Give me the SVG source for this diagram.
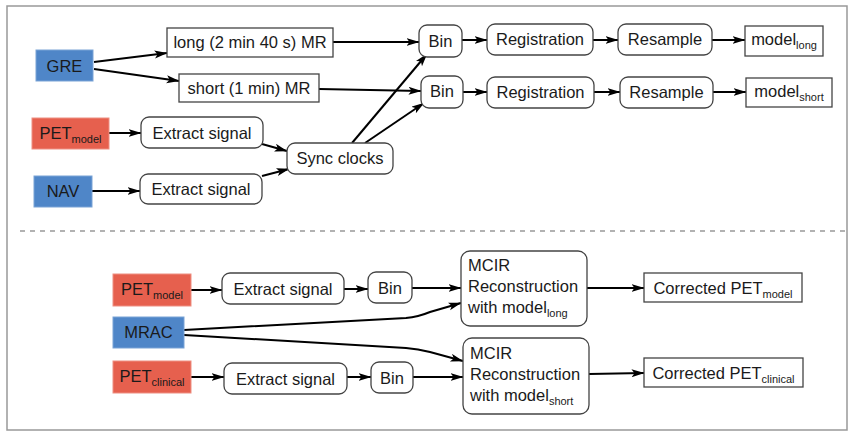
<svg xmlns="http://www.w3.org/2000/svg" width="851" height="433" viewBox="0 0 851 433">
<defs>
<marker id="ah" markerUnits="userSpaceOnUse" markerWidth="14" markerHeight="10" refX="12.5" refY="4" orient="auto">
<path d="M0,0 L13,4 L0,8 L3,4 z" fill="#000"/>
</marker>
<style>
text{font-family:"Liberation Sans",Arial,sans-serif;font-size:16.5px;fill:#1a1a1a}
.c{text-anchor:middle}
.sub{font-size:11px}
.box{fill:#fff;stroke:#444;stroke-width:1.3}
.blue{fill:#4f86c8;stroke:#7aa3d6;stroke-width:1}
.red{fill:#e6604e;stroke:#ee8f82;stroke-width:1}
.e{fill:none;stroke:#000;stroke-width:2;marker-end:url(#ah)}
</style>
</defs>
<rect width="851" height="433" fill="#fff"/>
<rect x="7" y="6" width="840" height="424" fill="none" stroke="#999" stroke-width="1.5"/>
<line x1="20" y1="231" x2="846" y2="231" stroke="#999" stroke-width="1.5" stroke-dasharray="5,5"/>

<g id="connectors">
<path class="e" d="M94,62 L167,53"/>
<path class="e" d="M94,69 L179,81"/>
<path class="e" d="M333,42 L419,42"/>
<path class="e" d="M319,89 L421,91"/>
<path class="e" d="M109,133 L141,133"/>
<path class="e" d="M92,191 L140,191"/>
<path class="e" d="M262,144 L287,151"/>
<path class="e" d="M262,176 L289,169"/>
<path class="e" d="M352,143 L427,54"/>
<path class="e" d="M365,143 L424,103"/>
<path class="e" d="M462,40 L487,40"/>
<path class="e" d="M593,40 L618,40"/>
<path class="e" d="M712,40 L745,40"/>
<path class="e" d="M463,92 L487,92"/>
<path class="e" d="M594,92 L620,92"/>
<path class="e" d="M713,92 L746,92"/>

<path class="e" d="M191,290 L222,290"/>
<path class="e" d="M344,289 L368,289"/>
<path class="e" d="M412,288 L461,288"/>
<path class="e" d="M184,330 L406,318 Q418,317 430,312 L461,303"/>
<path class="e" d="M184,335 L406,348 Q418,349 430,352 L463,361"/>
<path class="e" d="M191,377 L224,377"/>
<path class="e" d="M347,377 L371,377"/>
<path class="e" d="M413,377 L463,377"/>
<path class="e" d="M587,288 L644,288"/>
<path class="e" d="M589,374 L644,373"/>
</g>

<g id="gre"><rect class="blue" x="36" y="50" width="57" height="31"/><text class="c" x="64.5" y="72">GRE</text></g>
<g id="longmr"><rect class="box" x="167" y="28" width="166" height="29"/><text class="c" x="250" y="48">long (2 min 40 s) MR</text></g>
<g id="shortmr"><rect class="box" x="179" y="74" width="140" height="28"/><text class="c" x="249" y="94">short (1 min) MR</text></g>
<g id="petmodel1"><rect class="red" x="32" y="118" width="77" height="31"/><text class="c" x="70.5" y="139">PET<tspan class="sub" dy="4">model</tspan></text></g>
<g id="extract1"><rect class="box" x="141" y="117" width="122" height="31" rx="8"/><text class="c" x="202" y="139">Extract signal</text></g>
<g id="nav"><rect class="blue" x="34" y="176" width="58" height="31"/><text class="c" x="63" y="197">NAV</text></g>
<g id="extract2"><rect class="box" x="140" y="174" width="122" height="30" rx="8"/><text class="c" x="201" y="195">Extract signal</text></g>
<g id="sync"><rect class="box" x="287" y="143" width="106" height="31" rx="8"/><text class="c" x="340" y="164">Sync clocks</text></g>

<g id="bin1"><rect class="box" x="419" y="25" width="43" height="32" rx="8"/><text class="c" x="440.5" y="47">Bin</text></g>
<g id="reg1"><rect class="box" x="487" y="24" width="106" height="31" rx="8"/><text class="c" x="540" y="45">Registration</text></g>
<g id="res1"><rect class="box" x="618" y="24" width="94" height="31" rx="8"/><text class="c" x="665" y="45">Resample</text></g>
<g id="modellong"><rect class="box" x="745" y="26" width="78" height="30"/><text class="c" x="784" y="45">model<tspan class="sub" dy="4">long</tspan></text></g>

<g id="bin2"><rect class="box" x="421" y="76" width="42" height="32" rx="8"/><text class="c" x="442" y="97">Bin</text></g>
<g id="reg2"><rect class="box" x="487" y="77" width="107" height="31" rx="8"/><text class="c" x="540.5" y="98">Registration</text></g>
<g id="res2"><rect class="box" x="620" y="77" width="93" height="31" rx="8"/><text class="c" x="666.5" y="98">Resample</text></g>
<g id="modelshort"><rect class="box" x="746" y="78" width="86" height="29"/><text class="c" x="789" y="97">model<tspan class="sub" dy="4">short</tspan></text></g>

<g id="petmodel2"><rect class="red" x="113" y="274" width="78" height="32"/><text class="c" x="152" y="295">PET<tspan class="sub" dy="4">model</tspan></text></g>
<g id="extract3"><rect class="box" x="222" y="273" width="122" height="31" rx="8"/><text class="c" x="283" y="295">Extract signal</text></g>
<g id="bin3"><rect class="box" x="368" y="272" width="44" height="31" rx="8"/><text class="c" x="390" y="294">Bin</text></g>
<g id="mrac"><rect class="blue" x="113" y="317" width="71" height="31"/><text class="c" x="148.5" y="338">MRAC</text></g>
<g id="petclinical"><rect class="red" x="113" y="361" width="78" height="32"/><text class="c" x="152" y="382">PET<tspan class="sub" dy="4">clinical</tspan></text></g>
<g id="extract4"><rect class="box" x="224" y="363" width="123" height="31" rx="8"/><text class="c" x="285.5" y="385">Extract signal</text></g>
<g id="bin4"><rect class="box" x="371" y="362" width="42" height="31" rx="8"/><text class="c" x="392" y="384">Bin</text></g>

<g id="mcir1"><rect class="box" x="461" y="251" width="126" height="75" rx="9"/>
<text x="468" y="271">MCIR</text><text x="468" y="292">Reconstruction</text><text x="468" y="313">with model<tspan class="sub" dy="4">long</tspan></text></g>
<g id="mcir2"><rect class="box" x="463" y="338" width="126" height="76" rx="9"/>
<text x="470" y="359">MCIR</text><text x="470" y="380">Reconstruction</text><text x="470" y="401">with model<tspan class="sub" dy="4">short</tspan></text></g>
<g id="corrmodel"><rect class="box" x="644" y="273" width="158" height="29"/><text class="c" x="723" y="294">Corrected PET<tspan class="sub" dy="4">model</tspan></text></g>
<g id="corrclinical"><rect class="box" x="644" y="358" width="159" height="29"/><text class="c" x="723.5" y="379">Corrected PET<tspan class="sub" dy="4">clinical</tspan></text></g>
</svg>
